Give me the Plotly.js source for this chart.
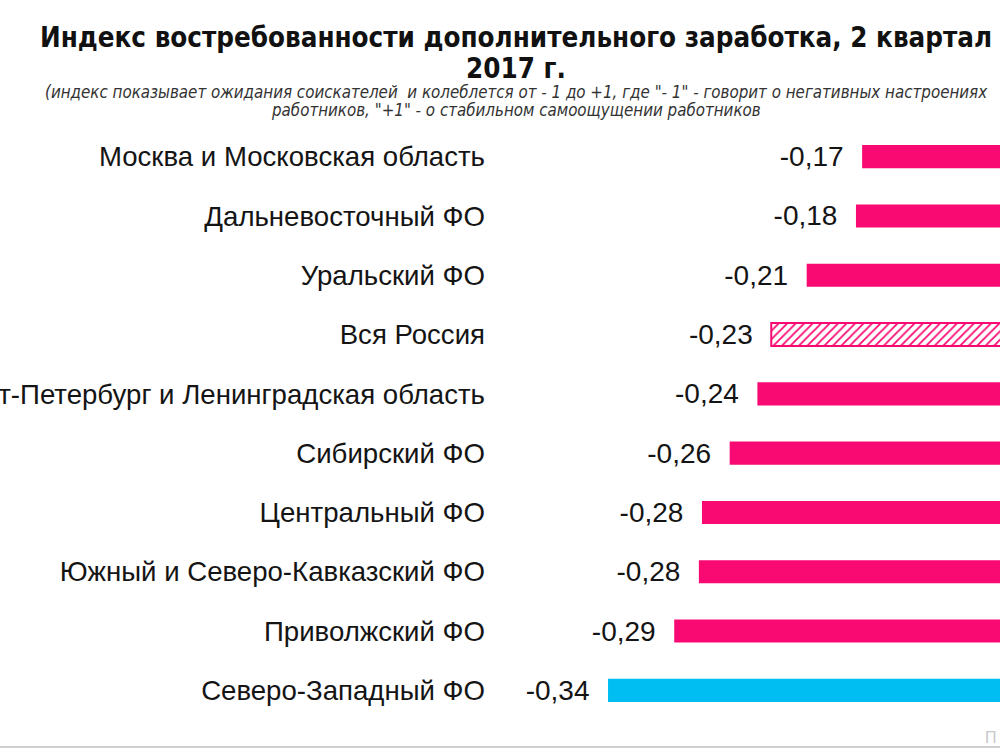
<!DOCTYPE html>
<html>
<head>
<meta charset="utf-8">
<script src="https://cdn.plot.ly/plotly-3.0.1.min.js"></script>
<style>
html,body{margin:0;padding:0;background:#fff;}
#chart{width:1000px;height:750px;}
</style>
</head>
<body>
<div id="chart"></div>
<script>
// Data (top to bottom)
const regions = [
  "Москва и Московская область",
  "Дальневосточный ФО",
  "Уральский ФО",
  "Вся Россия",
  "Санкт-Петербург и Ленинградская область",
  "Сибирский ФО",
  "Центральный ФО",
  "Южный и Северо-Кавказский ФО",
  "Приволжский ФО",
  "Северо-Западный ФО"
];
// Values (labels show them rounded to 2 decimals)
const indexValues = [-0.172, -0.176, -0.208, -0.231, -0.240, -0.258, -0.276, -0.278, -0.294, -0.337];
const highlightRegion = "Вся Россия";
const lowestRegion = "Северо-Западный ФО";
const titleLines = ["Индекс востребованности дополнительного заработка, 2 квартал", "2017 г."];
const subtitleLines = [
  "(индекс показывает ожидания соискателей  и колеблется от - 1 до +1, где \"- 1\" - говорит о негативных настроениях",
  "работников, \"+1\" - о стабильном самоощущении работников"
];
const cornerText = "П";

const PINK = "#F90A72";
const BLUE = "#00BDF2";
const NB = "\u00a0\u00a0";

const solidY = [], solidX = [], solidC = [];
const hatchY = [], hatchX = [];
regions.forEach((r, i) => {
  if (r === highlightRegion) { hatchY.push(r); hatchX.push(indexValues[i]); }
  else { solidY.push(r); solidX.push(indexValues[i]); solidC.push(r === lowestRegion ? BLUE : PINK); }
});

const labelFont = {family: "Liberation Sans, Arial, sans-serif", size: 28, color: "#141414"};

const solidTrace = {
  type: "bar",
  orientation: "h",
  y: solidY,
  x: solidX,
  marker: {color: solidC, line: {width: 0}},
  texttemplate: "%{x:.2f}" + NB,
  textposition: "outside",
  constraintext: "none",
  cliponaxis: false,
  textfont: labelFont,
  hoverinfo: "skip"
};

const hatchTrace = {
  type: "bar",
  orientation: "h",
  y: hatchY,
  x: hatchX,
  marker: {
    color: "#ffffff",
    line: {color: PINK, width: 2},
    pattern: {shape: "/", fillmode: "replace", fgcolor: PINK, bgcolor: "#ffffff", size: 6, solidity: 0.3}
  },
  texttemplate: "%{x:.2f}" + NB,
  textposition: "outside",
  constraintext: "none",
  cliponaxis: false,
  textfont: labelFont,
  hoverinfo: "skip"
};

const titleFont = {family: "DejaVu Sans Condensed, Liberation Sans, sans-serif", size: 27.5, color: "#111", weight: "bold"};
const subFont = {family: "DejaVu Sans Condensed, Liberation Sans, sans-serif", size: 16.8, color: "#333", style: "italic"};

function topText(text, y, font) {
  return {text: text, xref: "paper", yref: "paper", x: 0.032, y: y,
          xanchor: "center", yanchor: "middle", showarrow: false, align: "center", font: font};
}

const layout = {
  width: 1000,
  height: 750,
  margin: {l: 500, r: 0, t: 127, b: 30},
  paper_bgcolor: "#ffffff",
  plot_bgcolor: "#ffffff",
  separators: ", ",
  showlegend: false,
  barmode: "overlay",
  bargap: 0.61,
  xaxis: {
    range: [-0.40714, -0.08247],
    visible: false,
    fixedrange: true
  },
  yaxis: {
    type: "category",
    categoryorder: "array",
    categoryarray: regions,
    autorange: "reversed",
    showgrid: false,
    zeroline: false,
    showline: false,
    ticks: "",
    ticklabelstandoff: 14,
    tickfont: {family: "Liberation Sans, Arial, sans-serif", size: 27.6, color: "#141414"},
    fixedrange: true
  },
  annotations: [
    topText(titleLines[0], 1.1518, titleFont),
    topText(titleLines[1], 1.0995, titleFont),
    topText(subtitleLines[0], 1.0590, subFont),
    topText(subtitleLines[1], 1.0287, subFont),
    {
      text: cornerText,
      xref: "paper", yref: "paper",
      x: 0.998, y: -0.03,
      xanchor: "right", yanchor: "middle",
      showarrow: false,
      font: {family: "Liberation Sans, Arial, sans-serif", size: 16, color: "#c8c8c8"}
    }
  ],
  shapes: [
    {type: "line", xref: "paper", yref: "paper", x0: -1, x1: 1, y0: -0.0456, y1: -0.0456,
     line: {color: "#d0d0d0", width: 2}}
  ]
};

Plotly.newPlot("chart", [solidTrace, hatchTrace], layout, {displayModeBar: false, staticPlot: true});
</script>
</body>
</html>
